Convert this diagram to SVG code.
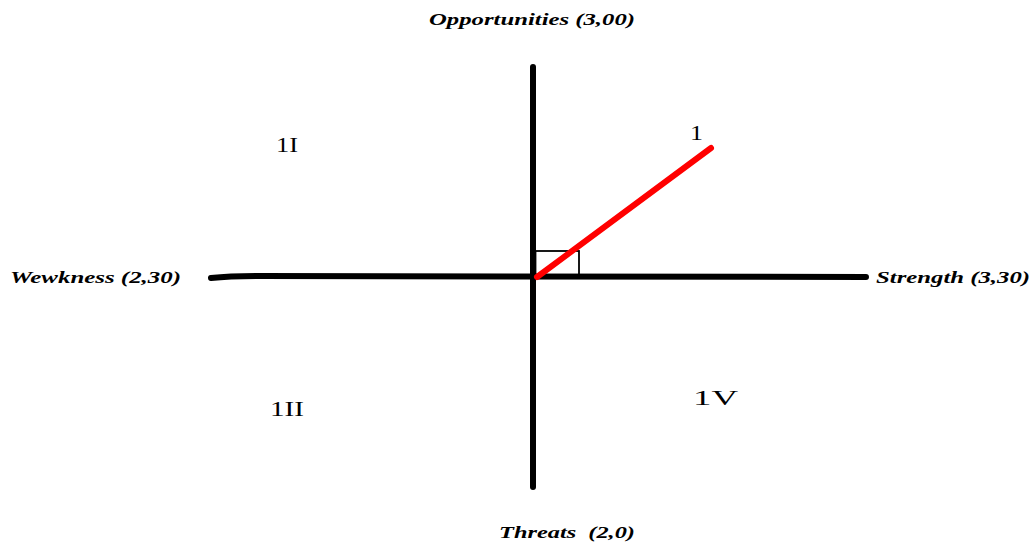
<svg xmlns="http://www.w3.org/2000/svg" width="1032" height="542" viewBox="0 0 1032 542">
<style>
.axis{stroke:#000;stroke-width:6;stroke-linecap:round;fill:none}
.lbl{font-family:"Liberation Serif",serif;font-weight:bold;font-style:italic;font-size:17px;fill:#000}
.q{font-family:"Liberation Serif",serif;font-size:21px;fill:#000}
</style>
<rect width="1032" height="542" fill="#fff"/>
<g id="connectors">
<path class="axis" d="M533 67 L533 487"/>
<path class="axis" d="M211 278 Q230 276 260 276 L866 277"/>
<rect x="535.5" y="251" width="43.5" height="25" fill="none" stroke="#000" stroke-width="1.8"/>
<path d="M537 277 L711 148" stroke="#f00" stroke-width="6" stroke-linecap="round" fill="none"/>
</g>
<g id="opportunities"><text class="lbl" x="532" y="25" text-anchor="middle" textLength="206" lengthAdjust="spacingAndGlyphs">Opportunities (3,00)</text></g>
<g id="weakness"><text class="lbl" x="10" y="283" textLength="171" lengthAdjust="spacingAndGlyphs">Wewkness (2,30)</text></g>
<g id="strength"><text class="lbl" x="876" y="283" textLength="154" lengthAdjust="spacingAndGlyphs">Strength (3,30)</text></g>
<g id="threats"><text class="lbl" x="499" y="538" textLength="136" lengthAdjust="spacingAndGlyphs" xml:space="preserve">Threats  (2,0)</text></g>
<g id="q1"><text class="q" x="690" y="140" textLength="13" lengthAdjust="spacingAndGlyphs">1</text></g>
<g id="q2"><text class="q" x="276" y="152" textLength="22" lengthAdjust="spacingAndGlyphs">1I</text></g>
<g id="q3"><text class="q" x="270" y="416" textLength="34" lengthAdjust="spacingAndGlyphs">1II</text></g>
<g id="q4"><text class="q" x="693" y="405" textLength="45" lengthAdjust="spacingAndGlyphs">1V</text></g>
</svg>
